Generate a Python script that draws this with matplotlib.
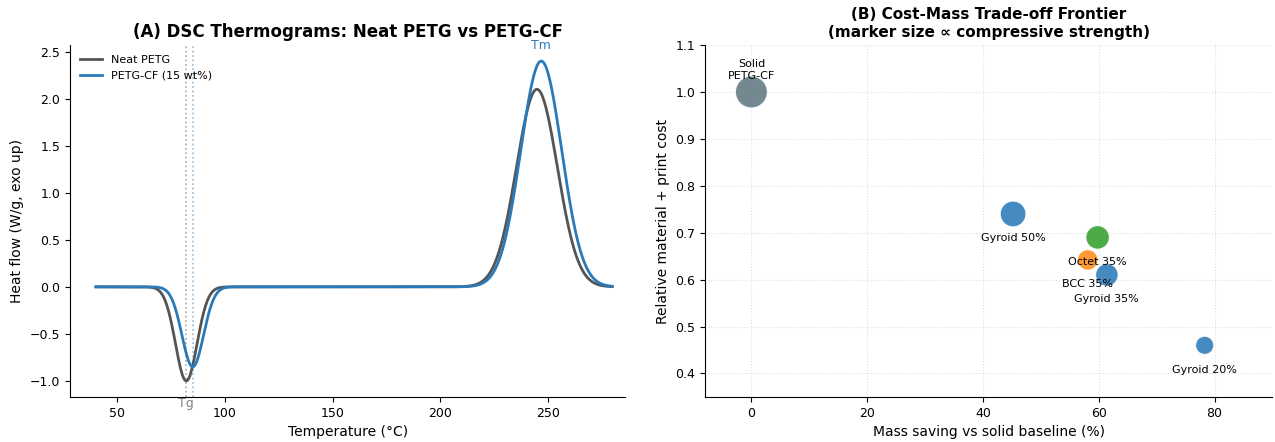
import numpy as np
import matplotlib

matplotlib.use("Agg")
import matplotlib.pyplot as plt

# (A) DSC peak parameters
temp_range = (40, 280)
tg_neat, tg_cf = 82, 85
tg_depth_neat, tg_depth_cf = -1.0, -0.85
tg_width_neat, tg_width_cf = 5.0, 5.0
tm_neat, tm_cf = 245, 247
tm_height_neat, tm_height_cf = 2.1, 2.4
tm_width_neat, tm_width_cf = 9.5, 9.5

# (B) cost-mass trade-off
designs = ["Solid\nPETG-CF", "Gyroid 50%", "Octet 35%", "BCC 35%", "Gyroid 35%", "Gyroid 20%"]
mass_saving = [0.0, 45.2, 59.8, 58.1, 61.4, 78.3]
rel_cost = [1.0, 0.74, 0.69, 0.642, 0.61, 0.46]
strength = [46, 30, 25, 19, 23, 15]
colors = ["#607880", "#2b7bba", "#33a02c", "#ff8c1a", "#2b7bba", "#2b7bba"]

NEAT = "#555555"
CF = "#2a7ab9"


def dsc_curve(t, tg, depth, w_tg, tm, height, w_tm):
    return depth * np.exp(-0.5 * ((t - tg) / w_tg) ** 2) + height * np.exp(-0.5 * ((t - tm) / w_tm) ** 2)


fig = plt.figure(figsize=(12.75, 4.42), dpi=100)
ax1 = fig.add_axes([0.055, 0.102, 0.4353, 0.796])
ax2 = fig.add_axes([0.553, 0.102, 0.445, 0.796])

t = np.linspace(*temp_range, 600)
ax1.plot(t, dsc_curve(t, tg_neat, tg_depth_neat, tg_width_neat, tm_neat, tm_height_neat, tm_width_neat),
         color=NEAT, lw=2, label="Neat PETG")
ax1.plot(t, dsc_curve(t, tg_cf, tg_depth_cf, tg_width_cf, tm_cf, tm_height_cf, tm_width_cf),
         color=CF, lw=2, label="PETG-CF (15 wt%)")
ax1.axvline(tg_neat, color=NEAT, ls=":", lw=1.2, alpha=0.5)
ax1.axvline(tg_cf, color=CF, ls=":", lw=1.2, alpha=0.5)
ax1.text(tg_neat, -1.17, "Tg", color="gray", ha="center", va="top", fontsize=9, clip_on=False)
ax1.text(tm_cf, 2.5, "Tm", color=CF, ha="center", va="bottom", fontsize=9)
ax1.set_xlim(28, 286)
ax1.set_xlabel("Temperature (°C)", fontsize=10)
ax1.set_ylabel("Heat flow (W/g, exo up)", fontsize=10)
ax1.set_title("(A) DSC Thermograms: Neat PETG vs PETG-CF", fontsize=12, fontweight="bold")
ax1.legend(loc="upper left", frameon=False, fontsize=8)
ax1.tick_params(labelsize=9)
for side in ("top", "right"):
    ax1.spines[side].set_visible(False)

ax2.scatter(mass_saving, rel_cost, s=[v * 11.5 for v in strength], c=colors, alpha=0.88,
            edgecolors="white", linewidths=0.8, zorder=3)
for name, x, y in zip(designs, mass_saving, rel_cost):
    if name.startswith("Solid"):
        ax2.annotate(name, (x, y), xytext=(0, 8), textcoords="offset points",
                     ha="center", va="bottom", fontsize=8)
    else:
        ax2.annotate(name, (x, y), xytext=(0, -14), textcoords="offset points",
                     ha="center", va="top", fontsize=8, zorder=4)
ax2.set_xlim(-8, 90)
ax2.set_ylim(0.35, 1.1)
ax2.grid(True, ls=":", alpha=0.4)
ax2.set_xlabel("Mass saving vs solid baseline (%)", fontsize=10)
ax2.set_ylabel("Relative material + print cost", fontsize=10)
ax2.set_title("(B) Cost-Mass Trade-off Frontier\n(marker size \u221d compressive strength)",
              fontsize=11, fontweight="bold")
ax2.tick_params(labelsize=9)
for side in ("top", "right"):
    ax2.spines[side].set_visible(False)

fig.savefig("out.png")
